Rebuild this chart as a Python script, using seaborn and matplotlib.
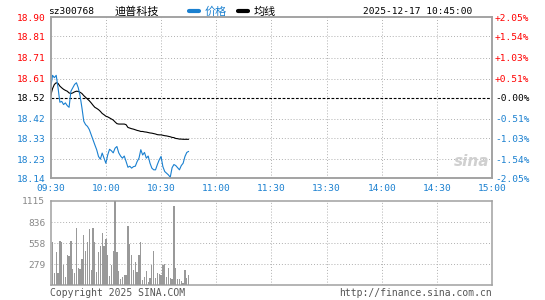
import numpy as np
import matplotlib
matplotlib.use("Agg")
import matplotlib.pyplot as plt
from matplotlib.lines import Line2D
import seaborn as sns

# --- data (minute index from 09:30) ---
price = [18.567, 18.626, 18.615, 18.626, 18.567, 18.499, 18.503, 18.488, 18.496, 18.483,
         18.475, 18.551, 18.567, 18.583, 18.591, 18.567, 18.528, 18.472, 18.409, 18.393,
         18.385, 18.370, 18.346, 18.322, 18.298, 18.275, 18.243, 18.230, 18.259, 18.235,
         18.211, 18.250, 18.277, 18.270, 18.260, 18.282, 18.290, 18.260, 18.245, 18.235,
         18.245, 18.219, 18.192, 18.197, 18.188, 18.195, 18.197, 18.219, 18.235, 18.275,
         18.250, 18.262, 18.235, 18.245, 18.211, 18.188, 18.180, 18.180, 18.205, 18.227,
         18.243, 18.195, 18.172, 18.164, 18.156, 18.145, 18.190, 18.205, 18.200, 18.190,
         18.180, 18.200, 18.211, 18.243, 18.262, 18.267]
avg_price = [18.530, 18.563, 18.583, 18.591, 18.588, 18.575, 18.567, 18.560, 18.555, 18.551,
             18.543, 18.540, 18.543, 18.548, 18.551, 18.550, 18.546, 18.540, 18.530, 18.522,
             18.514, 18.506, 18.496, 18.485, 18.475, 18.470, 18.464, 18.456, 18.446, 18.440,
             18.433, 18.430, 18.425, 18.420, 18.415, 18.406, 18.398, 18.396, 18.396, 18.396,
             18.396, 18.393, 18.380, 18.377, 18.374, 18.372, 18.369, 18.366, 18.364, 18.361,
             18.361, 18.359, 18.358, 18.356, 18.354, 18.353, 18.351, 18.349, 18.346, 18.345,
             18.345, 18.343, 18.341, 18.340, 18.338, 18.336, 18.333, 18.332, 18.328, 18.327,
             18.325, 18.325, 18.324, 18.324, 18.324, 18.324]
volume = [97, 567, 163, 434, 168, 584, 570, 265, 110, 398,
          383, 590, 216, 163, 761, 229, 216, 348, 664, 458,
          573, 745, 207, 752, 572, 176, 442, 520, 686, 520,
          610, 398, 120, 265, 455, 1115, 442, 190, 84, 115,
          137, 137, 780, 546, 405, 207, 308, 176, 405, 573,
          75, 110, 194, 44, 97, 273, 458, 97, 163, 150,
          132, 273, 282, 110, 229, 97, 84, 1053, 229, 84,
          84, 53, 31, 203, 97, 141]
minute = np.arange(len(price))

prev_close = 18.52
price_ticks = [18.90, 18.81, 18.71, 18.61, 18.52, 18.42, 18.33, 18.23, 18.14]
pct_labels = ['+2.05%', '+1.54%', '+1.03%', '+0.51%', '-0.00%',
              '-0.51%', '-1.03%', '-1.54%', '-2.05%']
time_labels = ['09:30', '10:00', '10:30', '11:00', '11:30', '13:30', '14:00', '14:30', '15:00']
vol_ticks = [279, 558, 836, 1115]

BLUE = '#1a80d0'
RED = '#ff0000'
GRAY = '#a0a0a0'

sns.set_theme(style="white")
plt.rcParams['font.family'] = ['DejaVu Sans Mono', 'Noto Sans CJK SC']
plt.rcParams['axes.unicode_minus'] = False

fig = plt.figure(figsize=(5.45, 3.0), dpi=100)
ax = fig.add_axes([0.093, 0.4057, 0.810, 0.5367])
axv = fig.add_axes([0.093, 0.049, 0.810, 0.281])

grid_kw = dict(color='#b0b0b0', linestyle=(0, (1, 2)), linewidth=0.7)

def label_color(p):
    if abs(p - prev_close) < 1e-6:
        return 'black'
    return RED if p > prev_close else BLUE

# --- price panel ---
sns.lineplot(x=minute, y=avg_price, ax=ax, color='black', linewidth=0.8, zorder=3)
sns.lineplot(x=minute, y=price, ax=ax, color=BLUE, linewidth=0.8, zorder=4)
ax.axhline(prev_close, color='black', linestyle=(0, (2.5, 1.5)), linewidth=0.8, zorder=2)
ax.set_xlim(0, 240)
ax.set_ylim(price_ticks[-1], price_ticks[0])
ax.set_yticks(price_ticks)
ax.set_yticklabels([f'{p:.2f}' for p in price_ticks])
ax.set_xticks(np.arange(0, 241, 30))
ax.set_xticklabels(time_labels)
for t in price_ticks[1:-1]:
    if abs(t - prev_close) > 1e-6:
        ax.axhline(t, zorder=1, **grid_kw)
for t in range(30, 240, 30):
    ax.axvline(t, zorder=1, **grid_kw)
ax.tick_params(axis='y', length=0, pad=4, labelsize=6.8)
ax.tick_params(axis='x', length=0, pad=4, labelsize=6.8, labelcolor=BLUE)
for lab, p in zip(ax.get_yticklabels(), price_ticks):
    lab.set_color(label_color(p))
ax.set_xlabel('')
ax.set_ylabel('')

axr = ax.twinx()
axr.set_ylim(ax.get_ylim())
axr.set_yticks(price_ticks)
axr.set_yticklabels(pct_labels)
axr.tick_params(axis='y', length=0, pad=2, labelsize=6.8)
for lab, p in zip(axr.get_yticklabels(), price_ticks):
    lab.set_color(label_color(p))

for a in (ax, axr, axv):
    for s in a.spines.values():
        s.set_color(GRAY)
        s.set_linewidth(1.1)

# --- volume panel ---
sns.barplot(x=minute, y=volume, ax=axv, native_scale=True, color='#999999',
            width=0.7, saturation=1, linewidth=0, zorder=3)
axv.set_xlim(0, 240)
axv.set_ylim(0, 1115)
axv.set_yticks(vol_ticks)
axv.set_yticklabels([str(v) for v in vol_ticks])
axv.set_xticks([])
for v in vol_ticks[:-1]:
    axv.axhline(v, zorder=1, **grid_kw)
for t in range(30, 240, 30):
    axv.axvline(t, zorder=1, **grid_kw)
axv.tick_params(axis='y', length=0, pad=4, labelsize=6.8, labelcolor='#888888')
axv.set_xlabel('')
axv.set_ylabel('')

# --- header ---
fy = 1 - 11.7 / 300
fig.text(48 / 545, fy, 'sz300768', ha='left', va='center', fontsize=6.8, color='black')
fig.text(115 / 545, fy, '迪普科技', ha='left', va='center', fontsize=8,
         family=['Noto Sans CJK SC'], color='black')
handles = [Line2D([], [], color=BLUE, linewidth=3), Line2D([], [], color='black', linewidth=3)]
leg = fig.legend(handles, ['价格', '均线'], loc='center left', bbox_to_anchor=(189 / 545, fy),
                 ncol=2, frameon=False, handlelength=0.9, handletextpad=0.5, columnspacing=1.0,
                 prop={'family': ['Noto Sans CJK SC'], 'size': 8}, borderpad=0, borderaxespad=0)
leg.get_texts()[0].set_color(BLUE)
leg.get_texts()[1].set_color('black')
fig.text(472 / 545, fy, '2025-12-17 10:45:00', ha='right', va='center', fontsize=6.8, color='black')

# --- watermark and footer ---
fig.text(472 / 545, 1 - 162 / 300, 'sina', ha='center', va='center', fontsize=11,
         style='italic', weight='bold', family=['DejaVu Sans'], color='#d0d0d0')
fig.text(50 / 545, 1 - 293 / 300, 'Copyright 2025 SINA.COM', ha='left', va='center',
         fontsize=7, color='#555555')
fig.text(492 / 545, 1 - 293 / 300, 'http://finance.sina.com.cn', ha='right', va='center',
         fontsize=7, color='#555555')

fig.savefig('out.png', dpi=100)
